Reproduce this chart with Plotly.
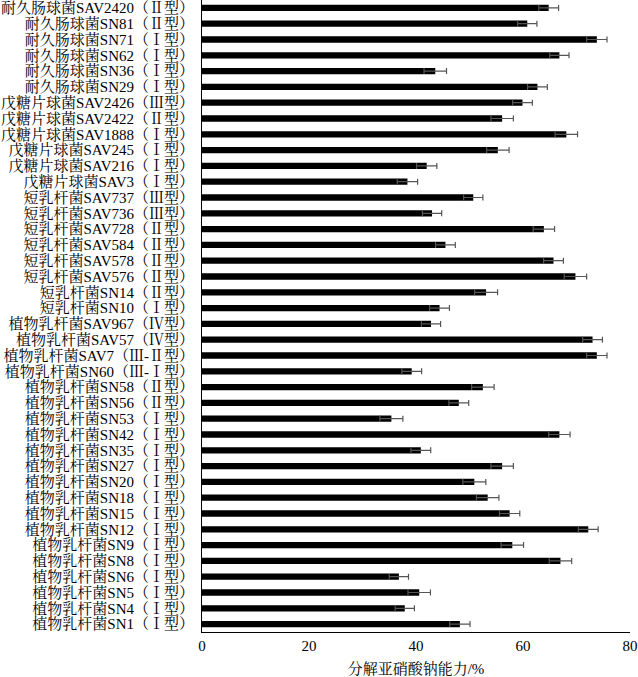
import plotly.graph_objects as go

strains = [
    "耐久肠球菌SAV2420（Ⅱ型）", "耐久肠球菌SN81（Ⅱ型）", "耐久肠球菌SN71（Ⅰ型）",
    "耐久肠球菌SN62（Ⅰ型）", "耐久肠球菌SN36（Ⅰ型）", "耐久肠球菌SN29（Ⅰ型）",
    "戊糖片球菌SAV2426（Ⅲ型）", "戊糖片球菌SAV2422（Ⅱ型）", "戊糖片球菌SAV1888（Ⅰ型）",
    "戊糖片球菌SAV245（Ⅰ型）", "戊糖片球菌SAV216（Ⅰ型）", "戊糖片球菌SAV3（Ⅰ型）",
    "短乳杆菌SAV737（Ⅲ型）", "短乳杆菌SAV736（Ⅲ型）", "短乳杆菌SAV728（Ⅱ型）",
    "短乳杆菌SAV584（Ⅱ型）", "短乳杆菌SAV578（Ⅱ型）", "短乳杆菌SAV576（Ⅱ型）",
    "短乳杆菌SN14（Ⅱ型）", "短乳杆菌SN10（Ⅰ型）",
    "植物乳杆菌SAV967（Ⅳ型）", "植物乳杆菌SAV57（Ⅳ型）", "植物乳杆菌SAV7（Ⅲ-Ⅱ型）",
    "植物乳杆菌SN60（Ⅲ-Ⅰ型）", "植物乳杆菌SN58（Ⅱ型）", "植物乳杆菌SN56（Ⅱ型）",
    "植物乳杆菌SN53（Ⅰ型）", "植物乳杆菌SN42（Ⅰ型）", "植物乳杆菌SN35（Ⅰ型）",
    "植物乳杆菌SN27（Ⅰ型）", "植物乳杆菌SN20（Ⅰ型）", "植物乳杆菌SN18（Ⅰ型）",
    "植物乳杆菌SN15（Ⅰ型）", "植物乳杆菌SN12（Ⅰ型）", "植物乳杆菌SN9（Ⅰ型）",
    "植物乳杆菌SN8（Ⅰ型）", "植物乳杆菌SN6（Ⅰ型）", "植物乳杆菌SN5（Ⅰ型）",
    "植物乳杆菌SN4（Ⅰ型）", "植物乳杆菌SN1（Ⅰ型）",
]

degradation = [
    64.8, 60.8, 73.8, 66.8, 43.6, 62.7,
    59.9, 56.1, 68.1, 55.3, 42.0, 38.4,
    50.7, 43.0, 63.9, 45.5, 65.7, 69.8, 53.1, 44.4,
    42.8, 73.0, 73.8, 39.2, 52.5, 48.0, 35.4, 66.8, 40.9, 56.1,
    50.9, 53.4, 57.5, 72.2, 58.0, 67.0, 36.8, 40.6, 37.9, 48.2,
]

errors = [
    1.85, 1.8, 1.9, 1.8, 2.1, 1.85,
    1.85, 2.1, 2.1, 2.1, 1.9, 1.9,
    1.8, 1.8, 2.0, 1.85, 1.85, 2.1, 2.15, 1.85,
    1.8, 1.85, 1.9, 1.85, 2.1, 1.85, 2.15, 2.0, 1.85, 2.1,
    2.15, 2.1, 1.9, 1.85, 2.1, 2.1, 1.8, 2.1, 1.8, 1.9,
]

x_ticks = [0, 20, 40, 60, 80]
x_title = "分解亚硝酸钠能力/%"

serif = "Liberation Serif, Noto Serif CJK SC, Noto Sans CJK SC, serif"

fig = go.Figure(go.Bar(
    y=strains,
    x=degradation,
    orientation="h",
    width=0.4,
    marker=dict(color="black", line=dict(width=0)),
    error_x=dict(type="data", array=errors, visible=True,
                 color="#555555", thickness=1.2, width=3),
))

fig.update_layout(
    width=638, height=677,
    margin=dict(l=202, r=8, t=0, b=45),
    paper_bgcolor="white", plot_bgcolor="white",
    showlegend=False,
    font=dict(family=serif, color="black", size=15),
)

fig.update_xaxes(
    range=[0, 80], tickmode="array", tickvals=x_ticks, ticks="",
    showgrid=False, zeroline=False,
    showline=True, linecolor="black", linewidth=1,
    tickfont=dict(family=serif, size=15, color="black"),
    ticklabeloverflow="allow",
    title=dict(text=x_title, font=dict(family=serif, size=15, color="black"), standoff=11),
    automargin=False,
)
fig.update_yaxes(
    autorange="reversed", tickmode="array", tickvals=strains, ticktext=strains,
    ticks="", showgrid=False, zeroline=False,
    showline=True, linecolor="black", linewidth=1,
    tickfont=dict(family=serif, size=15, color="black"),
    ticklabelstandoff=4,
    automargin=False,
)

fig.write_html(
    "out.html",
    config={"displayModeBar": False},
    post_script="document.body.style.margin='0';document.body.style.overflow='hidden';",
)
